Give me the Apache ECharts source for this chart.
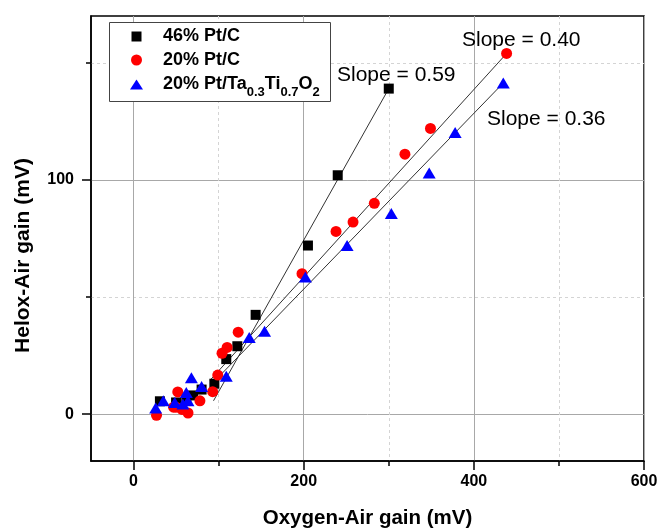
<!DOCTYPE html>
<html><head><meta charset="utf-8">
<script src="https://cdn.jsdelivr.net/npm/echarts@6/dist/echarts.min.js"></script>
<style>html,body{margin:0;padding:0;background:#fff}#c{width:659px;height:529px}</style>
</head><body><div id="c"></div><script>
// ---- data ----
const seriesNames = ['46% Pt/C', '20% Pt/C', '20% Pt/Ta0.3Ti0.7O2'];
const xTickLabels = [0, 200, 400, 600];
const xMinorTicks = [100, 300, 500];
const yTickLabels = [0, 100];
const yMinorTicks = [50, 150];
const xTitle = 'Oxygen-Air gain (mV)';
const yTitle = 'Helox-Air gain (mV)';
const pt46 = [[31,5.5],[50,5],[62,6],[70,8],[80,10.5],[95,13],[109,23.5],[122,29],[143.5,42.4],[205,72],[240,102],[300,139]];
const pt20 = [[27,-0.5],[47,3],[50,3],[52,9.5],[57,2],[64,0.5],[78,5.7],[93,9.6],[99,16.7],[104,26],[110,28.5],[123,35],[198,60],[238,78],[258,82],[283,90],[319,111],[349,122],[438.5,154]];
const ptTa = [[26,2.6],[35,5.7],[48.5,5],[58,4.3],[62,9.3],[64,5.7],[68,15.5],[80,11.8],[109,16.2],[136,32.7],[154,35.4],[202,58.6],[251,72],[303,85.7],[347.5,103],[378,120.3],[434.6,141.4]];
const fit46 = [[94,5.7],[300,139]];
const fit20 = [[90,14.5],[438.5,154]];
const fitTa = [[95,14],[434.6,141.4]];
const slopeLabels = ['Slope = 0.59', 'Slope = 0.40', 'Slope = 0.36'];

const FF = '"Liberation Sans", Arial, sans-serif';
const chart = echarts.init(document.getElementById('c'), null, {renderer: 'canvas'});
const richSub = {
  m: {fontFamily: FF, fontSize: 18, fontWeight: 'bold', color: '#000', lineHeight: 29, verticalAlign: 'middle'},
  s: {fontFamily: FF, fontSize: 13, fontWeight: 'bold', color: '#000', lineHeight: 13, verticalAlign: 'bottom'}
};
function legendFor(name, top, w, h) {
  return {
    data: [name], orient: 'vertical', left: 136.5 - w / 2, top: top, padding: 0,
    itemWidth: w, itemHeight: h, itemGap: 0, selectedMode: false,
    textStyle: {fontFamily: FF, fontSize: 18, fontWeight: 'bold', color: '#000', rich: richSub, padding: [0, 0, 0, 21.5 - w / 2]},
    formatter: function (n) {
      if (n === seriesNames[2]) return '{m|20% Pt/Ta}{s|0.3}{m|Ti}{s|0.7}{m|O}{s|2}';
      return n;
    },
    z: 5
  };
}
const axisLbl = {fontFamily: FF, fontSize: 16, fontWeight: 'bold', color: '#000'};
const option = {
  animation: false,
  backgroundColor: '#fff',
  grid: {left: 91, right: 15, top: 16, bottom: 68, show: true, borderColor: '#000', borderWidth: 1.5,
         containLabel: false, outerBoundsMode: 'none'},
  legend: [legendFor(seriesNames[0], 27.5, 10, 10), legendFor(seriesNames[1], 51, 11, 11), legendFor(seriesNames[2], 75.5, 13, 10)],
  graphic: [
    {type: 'rect', shape: {x: 109.5, y: 22.5, width: 221, height: 79}, style: {fill: '#fff', stroke: '#444', lineWidth: 1}, z: 3, silent: true},
    {type: 'text', x: 337, y: 75, z: 6, style: {text: slopeLabels[0], fontFamily: FF, fontSize: 21, fill: '#000', verticalAlign: 'middle'}},
    {type: 'text', x: 462, y: 40, z: 6, style: {text: slopeLabels[1], fontFamily: FF, fontSize: 21, fill: '#000', verticalAlign: 'middle'}},
    {type: 'text', x: 487, y: 119, z: 6, style: {text: slopeLabels[2], fontFamily: FF, fontSize: 21, fill: '#000', verticalAlign: 'middle'}}
  ],
  xAxis: [
    {type: 'value', min: -50, max: 600, position: 'bottom',
     name: xTitle, nameLocation: 'middle', nameGap: 47,
     nameTextStyle: {fontFamily: FF, fontSize: 20.5, fontWeight: 'bold', color: '#000'},
     axisLine: {onZero: false, lineStyle: {color: '#000', width: 1.5}},
     axisTick: {show: true, length: 9, customValues: xTickLabels, lineStyle: {color: '#000', width: 1.5}},
     axisLabel: Object.assign({customValues: xTickLabels, margin: 13}, axisLbl),
     splitLine: {show: true, lineStyle: {color: '#a8a8a8', width: 1}}},
    {type: 'value', min: -50, max: 600, position: 'bottom',
     axisLine: {show: false, onZero: false},
     axisTick: {show: true, length: 5, customValues: xMinorTicks, lineStyle: {color: '#000', width: 1.5}},
     axisLabel: {show: false},
     splitLine: {show: true, lineStyle: {color: '#d4d4d4', width: 1, type: [3, 3]}}}
  ],
  yAxis: [
    {type: 'value', min: -20, max: 170, position: 'left',
     name: yTitle, nameLocation: 'middle', nameGap: 57,
     nameTextStyle: {fontFamily: FF, fontSize: 21, fontWeight: 'bold', color: '#000', padding: [0, 34, 0, 0]},
     axisLine: {onZero: false, lineStyle: {color: '#000', width: 1.5}},
     axisTick: {show: true, length: 9, customValues: yTickLabels, lineStyle: {color: '#000', width: 1.5}},
     axisLabel: Object.assign({customValues: yTickLabels, margin: 17}, axisLbl),
     splitLine: {show: true, lineStyle: {color: '#a8a8a8', width: 1}}},
    {type: 'value', min: -20, max: 170, position: 'left',
     axisLine: {show: false, onZero: false},
     axisTick: {show: true, length: 5, customValues: yMinorTicks, lineStyle: {color: '#000', width: 1.5}},
     axisLabel: {show: false},
     splitLine: {show: true, lineStyle: {color: '#d4d4d4', width: 1, type: [3, 3]}}}
  ],
  series: [
    {type: 'line', data: fit46, symbol: 'none', silent: true, z: 2, lineStyle: {color: '#333', width: 1}},
    {type: 'line', data: fit20, symbol: 'none', silent: true, z: 2, lineStyle: {color: '#333', width: 1}},
    {type: 'line', data: fitTa, symbol: 'none', silent: true, z: 2, lineStyle: {color: '#333', width: 1}},
    {name: seriesNames[0], type: 'scatter', data: pt46, symbol: 'rect', symbolSize: 10, z: 3, itemStyle: {color: '#000', opacity: 1}},
    {name: seriesNames[1], type: 'scatter', data: pt20, symbol: 'circle', symbolSize: 11, z: 3, itemStyle: {color: '#ff0000', opacity: 1}},
    {name: seriesNames[2], type: 'scatter', data: ptTa, symbol: 'triangle', symbolSize: [13, 11], z: 3, itemStyle: {color: '#0000ff', opacity: 1}}
  ]
};
chart.setOption(option);
</script></body></html>
